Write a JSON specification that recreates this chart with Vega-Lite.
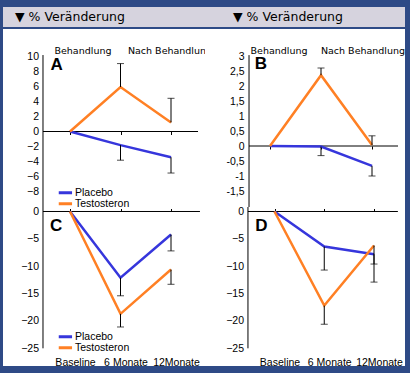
{
"$schema": "https://vega.github.io/schema/vega-lite/v6.json",
"background": "#2E4A86",
"padding": {"left": 3, "top": 7, "right": 5, "bottom": 7},
"bounds": "flush",
"spacing": 2,
"datasets": {
 "d": [
  {"p":"A","g":"Placebo","t":0,"v":0,"e":null},
  {"p":"A","g":"Placebo","t":6,"v":-1.8,"e":-3.8},
  {"p":"A","g":"Placebo","t":12,"v":-3.4,"e":-5.5},
  {"p":"A","g":"Testosteron","t":0,"v":0,"e":null},
  {"p":"A","g":"Testosteron","t":6,"v":5.9,"e":9.0},
  {"p":"A","g":"Testosteron","t":12,"v":1.2,"e":4.4},
  {"p":"B","g":"Placebo","t":0,"v":0,"e":null},
  {"p":"B","g":"Placebo","t":6,"v":-0.02,"e":-0.32},
  {"p":"B","g":"Placebo","t":12,"v":-0.66,"e":-1.0},
  {"p":"B","g":"Testosteron","t":0,"v":0,"e":null},
  {"p":"B","g":"Testosteron","t":6,"v":2.36,"e":2.6},
  {"p":"B","g":"Testosteron","t":12,"v":0.03,"e":0.34},
  {"p":"C","g":"Placebo","t":0,"v":0,"e":null},
  {"p":"C","g":"Placebo","t":6,"v":-12.1,"e":-15.4},
  {"p":"C","g":"Placebo","t":12,"v":-4.2,"e":-7.2},
  {"p":"C","g":"Testosteron","t":0,"v":0,"e":null},
  {"p":"C","g":"Testosteron","t":6,"v":-18.7,"e":-21.1},
  {"p":"C","g":"Testosteron","t":12,"v":-10.6,"e":-13.3},
  {"p":"D","g":"Placebo","t":0,"v":0,"e":null},
  {"p":"D","g":"Placebo","t":6,"v":-6.4,"e":-10.7},
  {"p":"D","g":"Placebo","t":12,"v":-7.8,"e":-9.6},
  {"p":"D","g":"Testosteron","t":0,"v":0,"e":null},
  {"p":"D","g":"Testosteron","t":6,"v":-17.2,"e":-20.6},
  {"p":"D","g":"Testosteron","t":12,"v":-6.2,"e":-12.9}
 ]
},
"config": {
 "view": {"stroke": null, "fill": "white"},
 "axis": {"grid": false, "labelFont": "Liberation Sans", "labelFontSize": 10.5, "labelColor": "black", "tickColor": "black", "labelFlush": false, "labelOverlap": false, "zindex": 1},
 "legend": {"padding": 0}
},
"resolve": {"scale": {"color": "independent"}, "legend": {"color": "independent"}},
"vconcat": [
 {
  "width": 402, "height": 20,
  "view": {"fill": "#D6D3DE", "stroke": null},
  "data": {"values": [{"col": "L", "t": "▼ % Veränderung"}, {"col": "R", "t": "▼ % Veränderung"}]},
  "layer": [
   {"transform": [{"filter": "datum.col == 'L'"}],
    "mark": {"type": "text", "align": "left", "baseline": "middle", "dx": -88.5, "font": "DejaVu Sans", "fontSize": 12.5, "color": "black"},
    "encoding": {"x": {"field": "col", "type": "nominal", "scale": {"type": "band", "domain": ["L", "R"], "paddingInner": 0, "paddingOuter": 0}, "axis": null}, "text": {"field": "t"}}},
   {"transform": [{"filter": "datum.col == 'R'"}],
    "mark": {"type": "text", "align": "left", "baseline": "middle", "dx": -71.5, "font": "DejaVu Sans", "fontSize": 12.5, "color": "black"},
    "encoding": {"x": {"field": "col", "type": "nominal", "scale": {"type": "band", "domain": ["L", "R"], "paddingInner": 0, "paddingOuter": 0}, "axis": null}, "text": {"field": "t"}}}
  ]
 },
 {
  "columns": 2,
  "spacing": 0,
  "bounds": "flush",
  "resolve": {"scale": {"color": "independent"}, "legend": {"color": "independent"}},
  "concat": [
     {
      "width": 202, "height": 178,
      "data": {"name": "d"},
      "transform": [{"filter": "datum.p == 'A'"}],
      "resolve": {"axis": {"x": "independent", "y": "independent"}},
      "layer": [
       {"data": {"values": [{}]}, "mark": {"type": "rule", "color": "black", "strokeWidth": 1},
        "encoding": {"x": {"datum": -3.21, "type": "quantitative", "axis": null}, "x2": {"datum": 15.21}, "y": {"datum": 0, "type": "quantitative", "axis": null}}},
       {"data": {"values": [{}]}, "mark": {"type": "rule", "color": "black", "strokeWidth": 1},
        "encoding": {"x": {"datum": -3.21, "type": "quantitative", "axis": null}, "y": {"datum": 10.13, "type": "quantitative", "axis": null}, "y2": {"datum": -10.0}}},
       {"mark": {"type": "line", "strokeWidth": 2.5},
        "encoding": {
         "x": {"field": "t", "type": "quantitative", "scale": {"domain": [-7.962, 16.038], "nice": false, "zero": false},
               "axis": {"orient": "bottom", "offset": -75.5, "values": [0, 6, 12], "labels": false, "domain": false, "ticks": true, "tickSize": 3, "title": null}},
         "y": {"field": "v", "type": "quantitative", "scale": {"domain": [-10.0, 13.58], "nice": false, "zero": false},
               "axis": {"orient": "left", "offset": -40, "values": [-8, -6, -4, -2, 0, 2, 4, 6, 8, 10], "domain": false, "ticks": false, "labelPadding": 4.5, "title": null}},
         "color": {"field": "g", "type": "nominal", "scale": {"domain": ["Placebo", "Testosteron"], "range": ["#3636DC", "#FF8024"]},
                   "legend": {"orient": "none", "legendX": 55.75, "legendY": 158.5, "title": null, "symbolType": "M-2.3,0H2.3", "symbolSize": 49, "symbolStrokeWidth": 3, "labelFont": "Liberation Sans", "labelFontSize": 10.5, "labelOffset": 5.75, "rowPadding": 0, "clipHeight": 10.5, "labelColor": "black"}}
        }},
       {"transform": [{"filter": "datum.e != null"}], "mark": {"type": "rule", "color": "black", "strokeWidth": 1},
        "encoding": {"x": {"field": "t", "type": "quantitative", "axis": null}, "y": {"field": "v", "type": "quantitative", "axis": null}, "y2": {"field": "e"}}},
       {"transform": [{"filter": "datum.e != null"}], "mark": {"type": "tick", "orient": "horizontal", "color": "black", "size": 7, "thickness": 1},
        "encoding": {"x": {"field": "t", "type": "quantitative", "axis": null}, "y": {"field": "e", "type": "quantitative", "axis": null}}},
       {"data": {"values": [{}]}, "mark": {"type": "text", "text": "A", "font": "Liberation Sans", "fontWeight": "bold", "fontSize": 17, "align": "center", "baseline": "middle", "color": "black"},
        "encoding": {"x": {"datum": -1.6, "type": "quantitative", "axis": null}, "y": {"datum": 8.87, "type": "quantitative", "axis": null}}},
       {"data": {"values": [{}]}, "mark": {"type": "text", "text": "Behandlung", "font": "DejaVu Sans", "fontSize": 9.5, "align": "center", "baseline": "middle", "color": "black"},
        "encoding": {"x": {"datum": 1.54, "type": "quantitative", "axis": null}, "y": {"datum": 10.73, "type": "quantitative", "axis": null}}},
       {"data": {"values": [{}]}, "mark": {"type": "text", "text": "Nach Behandlung", "font": "DejaVu Sans", "fontSize": 9.5, "align": "center", "baseline": "middle", "color": "black"},
        "encoding": {"x": {"datum": 11.88, "type": "quantitative", "axis": null}, "y": {"datum": 10.73, "type": "quantitative", "axis": null}}}
      ]
     },
     {
      "width": 200, "height": 178,
      "data": {"name": "d"},
      "transform": [{"filter": "datum.p == 'B'"}],
      "resolve": {"axis": {"x": "independent", "y": "independent"}},
      "layer": [
       {"data": {"values": [{}]}, "mark": {"type": "rule", "color": "black", "strokeWidth": 1},
        "encoding": {"x": {"datum": -2.47, "type": "quantitative", "axis": null}, "x2": {"datum": 15.06}, "y": {"datum": 0, "type": "quantitative", "axis": null}}},
       {"data": {"values": [{}]}, "mark": {"type": "rule", "color": "black", "strokeWidth": 1},
        "encoding": {"x": {"datum": -2.47, "type": "quantitative", "axis": null}, "y": {"datum": 3.03, "type": "quantitative", "axis": null}, "y2": {"datum": -2.033}}},
       {"mark": {"type": "line", "strokeWidth": 2.5},
        "encoding": {
         "x": {"field": "t", "type": "quantitative", "scale": {"domain": [-7.65, 15.882], "nice": false, "zero": false},
               "axis": {"orient": "bottom", "offset": -61, "values": [0, 6, 12], "labels": false, "domain": false, "ticks": true, "tickSize": 3, "title": null}},
         "y": {"field": "v", "type": "quantitative", "scale": {"domain": [-2.033, 3.9], "nice": false, "zero": false},
               "axis": {"orient": "left", "offset": -44, "values": [-1.5, -1, -0.5, 0, 0.5, 1, 1.5, 2, 2.5, 3], "labelExpr": "replace(toString(datum.value), '.', ',')", "domain": false, "ticks": false, "labelPadding": 5, "title": null}},
         "color": {"field": "g", "type": "nominal", "scale": {"domain": ["Placebo", "Testosteron"], "range": ["#3636DC", "#FF8024"]}, "legend": null}
        }},
       {"transform": [{"filter": "datum.e != null"}], "mark": {"type": "rule", "color": "black", "strokeWidth": 1},
        "encoding": {"x": {"field": "t", "type": "quantitative", "axis": null}, "y": {"field": "v", "type": "quantitative", "axis": null}, "y2": {"field": "e"}}},
       {"transform": [{"filter": "datum.e != null"}], "mark": {"type": "tick", "orient": "horizontal", "color": "black", "size": 7, "thickness": 1},
        "encoding": {"x": {"field": "t", "type": "quantitative", "axis": null}, "y": {"field": "e", "type": "quantitative", "axis": null}}},
       {"data": {"values": [{}]}, "mark": {"type": "text", "text": "B", "font": "Liberation Sans", "fontWeight": "bold", "fontSize": 17, "align": "center", "baseline": "middle", "color": "black"},
        "encoding": {"x": {"datum": -1.06, "type": "quantitative", "axis": null}, "y": {"datum": 2.717, "type": "quantitative", "axis": null}}},
       {"data": {"values": [{}]}, "mark": {"type": "text", "text": "Behandlung", "font": "DejaVu Sans", "fontSize": 9.5, "align": "center", "baseline": "middle", "color": "black"},
        "encoding": {"x": {"datum": 1.06, "type": "quantitative", "axis": null}, "y": {"datum": 3.18, "type": "quantitative", "axis": null}}},
       {"data": {"values": [{}]}, "mark": {"type": "text", "text": "Nach Behandlung", "font": "DejaVu Sans", "fontSize": 9.5, "align": "center", "baseline": "middle", "color": "black"},
        "encoding": {"x": {"datum": 10.94, "type": "quantitative", "axis": null}, "y": {"datum": 3.18, "type": "quantitative", "axis": null}}}
      ]
     },
     {
      "width": 202, "height": 159,
      "data": {"name": "d"},
      "transform": [{"filter": "datum.p == 'C'"}],
      "resolve": {"axis": {"x": "independent", "y": "independent"}},
      "layer": [
       {"data": {"values": [{}]}, "mark": {"type": "rule", "color": "black", "strokeWidth": 1},
        "encoding": {"x": {"datum": -3.21, "type": "quantitative", "axis": {"orient": "top", "offset": -4.5, "values": [0, 6, 12], "labels": false, "domain": false, "ticks": true, "tickSize": 3, "title": null}}, "x2": {"datum": 15.44}, "y": {"datum": 0, "type": "quantitative", "axis": null}}},
       {"data": {"values": [{}]}, "mark": {"type": "rule", "color": "black", "strokeWidth": 1},
        "encoding": {"x": {"datum": -3.21, "type": "quantitative", "axis": null}, "y": {"datum": 0.822, "type": "quantitative", "axis": null}, "y2": {"datum": -25}}},
       {"mark": {"type": "line", "strokeWidth": 2.5},
        "encoding": {
         "x": {"field": "t", "type": "quantitative", "scale": {"domain": [-7.962, 16.038], "nice": false, "zero": false},
               "axis": {"orient": "bottom", "offset": -10, "values": [0, 6, 12], "labelExpr": "datum.value == 0 ? 'Baseline' : datum.value == 6 ? '6 Monate' : '12Monate'", "labelBaseline": "alphabetic", "labelPadding": 9, "labelOffset": 5, "domain": false, "ticks": false, "tickSize": 0, "title": null}},
         "y": {"field": "v", "type": "quantitative", "scale": {"domain": [-28.23, 0.822], "nice": false, "zero": false},
               "axis": {"orient": "left", "offset": -40, "values": [-25, -20, -15, -10, -5, 0], "domain": false, "ticks": false, "labelPadding": 4.5, "title": null}},
         "color": {"field": "g", "type": "nominal", "scale": {"domain": ["Placebo", "Testosteron"], "range": ["#3636DC", "#FF8024"]},
                   "legend": {"orient": "none", "legendX": 55.75, "legendY": 124.5, "title": null, "symbolType": "M-2.3,0H2.3", "symbolSize": 49, "symbolStrokeWidth": 3, "labelFont": "Liberation Sans", "labelFontSize": 10.5, "labelOffset": 5.75, "rowPadding": 0, "clipHeight": 10.5, "labelColor": "black"}}
        }},
       {"transform": [{"filter": "datum.e != null"}], "mark": {"type": "rule", "color": "black", "strokeWidth": 1},
        "encoding": {"x": {"field": "t", "type": "quantitative", "axis": null}, "y": {"field": "v", "type": "quantitative", "axis": null}, "y2": {"field": "e"}}},
       {"transform": [{"filter": "datum.e != null"}], "mark": {"type": "tick", "orient": "horizontal", "color": "black", "size": 7, "thickness": 1},
        "encoding": {"x": {"field": "t", "type": "quantitative", "axis": null}, "y": {"field": "e", "type": "quantitative", "axis": null}}},
       {"data": {"values": [{}]}, "mark": {"type": "text", "text": "C", "font": "Liberation Sans", "fontWeight": "bold", "fontSize": 17, "align": "center", "baseline": "middle", "color": "black"},
        "encoding": {"x": {"datum": -1.66, "type": "quantitative", "axis": null}, "y": {"datum": -2.56, "type": "quantitative", "axis": null}}}
      ]
     },
     {
      "width": 200, "height": 159,
      "data": {"name": "d"},
      "transform": [{"filter": "datum.p == 'D'"}],
      "resolve": {"axis": {"x": "independent", "y": "independent"}},
      "layer": [
       {"data": {"values": [{}]}, "mark": {"type": "rule", "color": "black", "strokeWidth": 1},
        "encoding": {"x": {"datum": -3.2, "type": "quantitative", "axis": {"orient": "top", "offset": -4.5, "values": [0, 6, 12], "labels": false, "domain": false, "ticks": true, "tickSize": 3, "title": null}}, "x2": {"datum": 14.88}, "y": {"datum": 0, "type": "quantitative", "axis": null}}},
       {"data": {"values": [{}]}, "mark": {"type": "rule", "color": "black", "strokeWidth": 1},
        "encoding": {"x": {"datum": -3.2, "type": "quantitative", "axis": null}, "y": {"datum": 0.822, "type": "quantitative", "axis": null}, "y2": {"datum": -25}}},
       {"mark": {"type": "line", "strokeWidth": 2.5},
        "encoding": {
         "x": {"field": "t", "type": "quantitative", "scale": {"domain": [-8.382, 15.738], "nice": false, "zero": false},
               "axis": {"orient": "bottom", "offset": -10, "values": [0, 6, 12], "labelExpr": "datum.value == 0 ? 'Baseline' : datum.value == 6 ? '6 Monate' : '12Monate'", "labelBaseline": "alphabetic", "labelPadding": 9, "labelOffset": 5, "domain": false, "ticks": false, "tickSize": 0, "title": null}},
         "y": {"field": "v", "type": "quantitative", "scale": {"domain": [-28.23, 0.822], "nice": false, "zero": false},
               "axis": {"orient": "left", "offset": -43, "values": [-25, -20, -15, -10, -5, 0], "domain": false, "ticks": false, "labelPadding": 4.5, "title": null}},
         "color": {"field": "g", "type": "nominal", "scale": {"domain": ["Placebo", "Testosteron"], "range": ["#3636DC", "#FF8024"]}, "legend": null}
        }},
       {"transform": [{"filter": "datum.e != null"}], "mark": {"type": "rule", "color": "black", "strokeWidth": 1},
        "encoding": {"x": {"field": "t", "type": "quantitative", "axis": null}, "y": {"field": "v", "type": "quantitative", "axis": null}, "y2": {"field": "e"}}},
       {"transform": [{"filter": "datum.e != null"}], "mark": {"type": "tick", "orient": "horizontal", "color": "black", "size": 7, "thickness": 1},
        "encoding": {"x": {"field": "t", "type": "quantitative", "axis": null}, "y": {"field": "e", "type": "quantitative", "axis": null}}},
       {"data": {"values": [{}]}, "mark": {"type": "text", "text": "D", "font": "Liberation Sans", "fontWeight": "bold", "fontSize": 17, "align": "center", "baseline": "middle", "color": "black"},
        "encoding": {"x": {"datum": -1.57, "type": "quantitative", "axis": null}, "y": {"datum": -2.56, "type": "quantitative", "axis": null}}}
      ]
     }
  ]
 }
]
}
